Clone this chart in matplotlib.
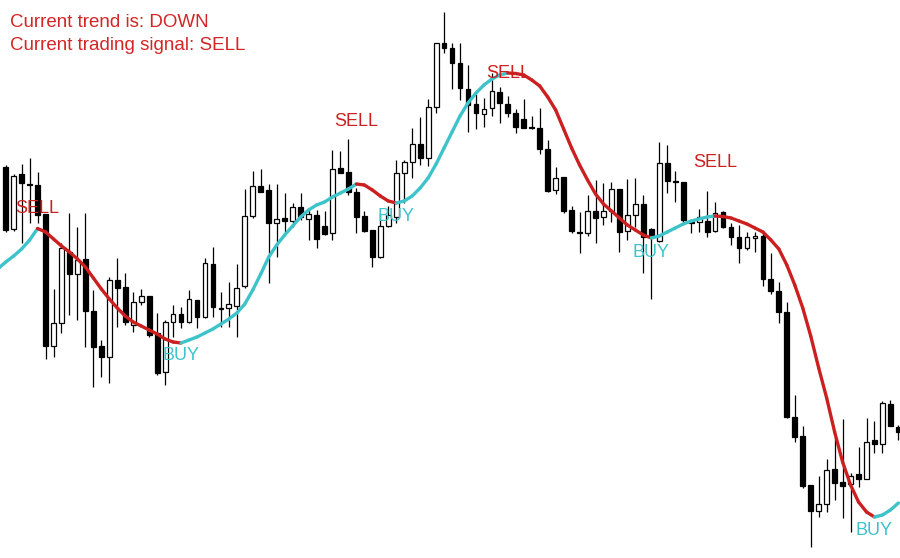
"""Candlestick chart with a trend-coloured smoothed average and BUY/SELL signal labels."""

import matplotlib

matplotlib.use("Agg")
import matplotlib.pyplot as plt
import numpy as np
from matplotlib.collections import LineCollection

# price levels (screen scale: larger value = lower price, y axis is inverted)
opens = [167, 229, 174, 184, 185, 214, 346, 323, 252, 274, 259, 311, 346, 357, 280, 287, 325, 302, 296, 333,
         372, 322, 314, 322, 300, 317, 264, 307.5, 308, 306, 286, 216, 186, 190, 223, 218, 221, 207, 219, 215,
         226, 233, 168, 172, 192, 216, 230, 257, 226, 217, 173, 162, 144, 158, 107, 43, 48, 63, 89, 104,
         114, 108, 92, 104, 113, 119, 126.5, 128, 149, 190, 177, 210, 231.5, 233, 211, 217, 211, 189, 231, 215,
         204, 229, 241, 163, 180.5, 182, 221.5, 222, 221, 231, 212, 227, 237, 248, 238, 236, 279, 291, 312, 417,
         436, 485, 511, 504, 469, 482, 484, 474, 479, 440, 444, 404, 427]
closes = [230, 176, 183, 184.5, 215, 346, 323, 248, 274, 260, 311, 347, 357, 280, 288, 322, 302, 296, 335, 373,
          322, 314, 322, 299, 317, 263, 307, 308.5, 304, 288, 216, 186, 192, 223, 219, 221, 207, 217, 214, 239,
          234, 169, 173, 192, 217, 231, 257, 226, 215, 173, 162, 144, 158, 107, 43, 48, 63, 88, 105, 113,
          109, 91, 103, 113, 127, 128, 127.5, 149, 191, 178, 211, 231, 232.5, 211, 218, 211, 189, 232, 215, 204,
          237, 237, 163, 181, 181.5, 220, 222.5, 217, 232, 213, 227, 237, 248, 237, 236, 279, 291, 312, 417, 437,
          486, 511, 504, 470, 483, 486, 476, 479, 442, 444, 403, 426, 432]
highs = [165, 174, 164, 158, 172, 214, 289, 243, 213, 227, 213, 290, 340, 277, 258, 273, 292, 289, 296, 313,
         320, 305, 307, 290, 300, 258, 247, 292, 282, 264, 189, 171, 169, 184, 184, 193, 203, 193, 208, 210,
         211, 150, 151, 139, 188, 211, 230, 213, 206, 160, 160, 128, 117, 99, 43, 12, 43, 43, 65, 94,
         98, 73, 87, 96, 109, 99, 116, 108, 140, 167, 177, 206, 212, 195, 180, 183, 182, 189, 179, 178,
         195, 228, 142, 145, 171, 182, 221, 209, 191, 202, 211, 223, 225, 232, 232, 233, 253, 282, 302, 395,
         426, 485, 476, 459, 437, 419, 473, 447, 418, 421, 401, 400, 425]
lows = [232, 231, 243, 223, 223, 359, 357, 333, 315, 320, 347, 387, 377, 383, 327, 325, 332, 305, 337, 375,
        385, 337, 328, 323, 328, 318, 317, 327, 327, 337, 288, 218, 192, 283, 257, 233, 227, 220, 240, 248,
        235, 240, 173, 195, 233, 232, 267, 258, 227, 223, 203, 178, 165, 166, 113, 53, 89, 100, 132, 129,
        127, 116, 123, 117, 133, 128, 129, 154, 192, 194, 213, 233, 253, 236, 243, 225, 222, 252, 240, 227,
        273, 299, 242, 193, 202, 222, 233, 232, 237, 232, 228, 245, 263, 250, 252, 286, 294, 323, 418, 442,
        488, 547, 517, 512, 500, 518, 532, 487, 479, 453, 453, 426, 440]

# smoothed trend line, one value per bar from bar -1 to bar 112
ma_bars = list(range(-1, 113))
ma_values = [269, 262, 256, 249, 240, 228.5, 232, 239, 246, 252, 259, 267, 278, 289, 299, 308, 316, 322, 326, 330,
             334, 339, 342, 343, 340, 337, 333, 329, 324, 319, 313, 304, 290, 274, 257, 245, 235, 226, 217, 210,
             205, 202, 197, 193, 189, 184, 185, 190, 196, 201, 203, 201, 196, 188, 178, 164, 148, 132, 116, 103,
             93, 85, 79, 75, 73, 73.5, 75, 80, 86, 97, 110, 129, 148, 165, 180, 194, 204, 211, 218, 225,
             230, 235, 238, 236, 232, 228, 224, 221, 219, 217, 216, 216.5, 218, 221, 224, 228, 232, 240, 249, 265,
             285, 308, 336, 368, 398, 432, 462, 485, 502, 512, 517, 515, 510, 503]

# signals: bar index, label text, label level (baseline)
signal_bars = [4, 22, 44, 49, 63, 81, 89, 109]
signal_texts = ["SELL", "BUY", "SELL", "BUY", "SELL", "BUY", "SELL", "BUY"]
signal_levels = [213, 360, 126, 221, 78, 257, 167, 535]

info_lines = ["Current trend is: DOWN", "Current trading signal: SELL"]

RED = "#cc1f1f"
CYAN = "#3fc3cb"
TEXT_RED = "#d42525"
FONT = ["Liberation Sans", "DejaVu Sans"]

fig = plt.figure(figsize=(9, 5.58), dpi=100)
ax = fig.add_axes([0, 0, 1, 1])
ax.set_xlim(-0.715, 112.2)
ax.set_ylim(558, 0)
ax.axis("off")

x = np.arange(len(opens))
o = np.asarray(opens, dtype=float)
c = np.asarray(closes, dtype=float)
bearish = c > o  # screen scale: close below open

# wicks
ax.vlines(x, highs, lows, color="black", lw=0.9, zorder=2)
# bodies
bottom = np.minimum(o, c)
height = np.maximum(np.abs(c - o), 0.8)
ax.bar(x, height, bottom=bottom, width=0.6, color=np.where(bearish, "black", "white"),
       edgecolor="black", linewidth=0.9, zorder=3)

# trend line, red while falling, cyan while rising
pts = np.column_stack([ma_bars, ma_values])
segs = np.stack([pts[:-1], pts[1:]], axis=1)
cols = [RED if b > a else CYAN for a, b in zip(ma_values[:-1], ma_values[1:])]
ax.add_collection(LineCollection(segs, colors=cols, linewidths=2.4, capstyle="round", zorder=4))

for bar, txt, lvl in zip(signal_bars, signal_texts, signal_levels):
    ax.text(bar, lvl, txt, color=RED if txt == "SELL" else CYAN, fontsize=13, family=FONT,
            ha="center", va="baseline", zorder=5)

for k, line in enumerate(info_lines):
    fig.text(10 / 900, 1 - (27 + 23 * k) / 558, line, color=TEXT_RED, fontsize=13.5, family=FONT,
             ha="left", va="baseline")

fig.savefig("out.png", dpi=100, facecolor="white")
